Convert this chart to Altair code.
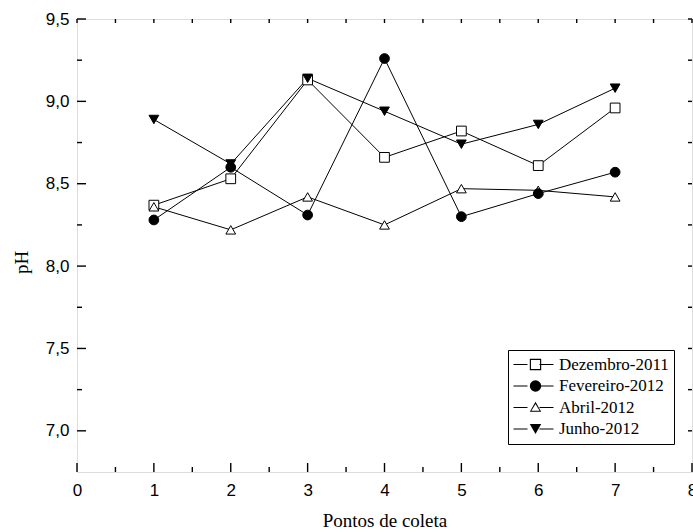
import altair as alt
import pandas as pd

# ---- data ----
pontos = [1, 2, 3, 4, 5, 6, 7]
series = ["Dezembro-2011", "Fevereiro-2012", "Abril-2012", "Junho-2012"]
dezembro = [8.37, 8.53, 9.13, 8.66, 8.82, 8.61, 8.96]
fevereiro = [8.28, 8.60, 8.31, 9.26, 8.30, 8.44, 8.57]
abril = [8.36, 8.22, 8.42, 8.25, 8.47, 8.46, 8.42]
junho = [8.89, 8.62, 9.14, 8.94, 8.74, 8.86, 9.08]
open_series = ["Dezembro-2011", "Abril-2012"]
filled_series = ["Fevereiro-2012", "Junho-2012"]
open_shapes = ["square", "circle", "triangle-up", "triangle-down"]
# legend symbols: outline shapes drawn as filled rings (outer path + reversed inner path)
SQUARE_RING = "M-1,-1H1V1H-1Z M-0.8,-0.8V0.8H0.8V-0.8Z"
TRI_RING = "M0,-1L1,0.75L-1,0.75Z M0,-0.6L-0.72,0.58L0.72,0.58Z"
legend_shapes = [SQUARE_RING, "circle", TRI_RING, "triangle-down"]

x_major = [0, 1, 2, 3, 4, 5, 6, 7, 8]
x_minor = [0.5, 1.5, 2.5, 3.5, 4.5, 5.5, 6.5, 7.5]
y_major = [7.0, 7.5, 8.0, 8.5, 9.0, 9.5]
y_minor = [7.25, 7.75, 8.25, 8.75, 9.25]

# legend keys carry trailing spaces so the overlaid legends stay separate
series_l = [s + " " for s in series]
series_o = [s + "  " for s in series]

rows = []
for s, sl, so, vals in zip(series, series_l, series_o,
                           [dezembro, fevereiro, abril, junho]):
    for p, v in zip(pontos, vals):
        rows.append({"ponto": p, "ph": v, "serie": s, "serie_l": sl,
                     "serie_o": so})
df = pd.DataFrame(rows)

W, H = 615, 453
xscale = alt.Scale(domain=[0, 8], nice=False, zero=False)
yscale = alt.Scale(domain=[6.75, 9.5], nice=False, zero=False)

xaxis = alt.Axis(
    values=x_major, format="d", tickSize=0, domain=False, grid=False,
    labelFont="Liberation Sans", labelFontSize=17, labelPadding=10,
    labelColor="black", labelFlush=False,
    title="Pontos de coleta", titleFont="Liberation Serif", titleFontSize=19,
    titleFontWeight="normal", titleColor="black", titleY=54,
    titleBaseline="alphabetic",
)
yaxis = alt.Axis(
    values=y_major, labelExpr="replace(format(datum.value, '.1f'), '.', ',')",
    tickSize=0, domain=False, grid=False,
    labelFont="Liberation Sans", labelFontSize=17, labelPadding=8,
    labelColor="black", labelFlush=False,
    title="pH", titleFont="Liberation Serif", titleFontSize=19,
    titleFontWeight="normal", titleColor="black", titleAngle=270,
    titleX=-50, titleY=243, titleAlign="center", titleBaseline="alphabetic",
)

line_legend = alt.Legend(
    orient="none", legendX=431, legendY=331, title=None,
    symbolType="stroke", symbolSize=1600, symbolStrokeWidth=1,
    symbolDash=[14, 12, 14], symbolStrokeColor="black",
    clipHeight=19, rowPadding=2.5, padding=5,
    labelFont="Liberation Serif", labelFontSize=17, labelColor="black",
    labelOffset=5, strokeColor="black",
)

point_legend = alt.Legend(
    orient="none", legendX=445, legendY=331, title=None,
    symbolSize=130, symbolStrokeWidth=0, symbolFillColor="black",
    symbolOpacity=1, clipHeight=19, rowPadding=2.5, padding=5,
    labelFont="Liberation Serif", labelFontSize=17, labelExpr="''",
)

lines = alt.Chart(df).mark_line(strokeWidth=1).encode(
    x=alt.X("ponto:Q", scale=xscale, axis=xaxis),
    y=alt.Y("ph:Q", scale=yscale, axis=yaxis),
    stroke=alt.Stroke("serie_l:N", sort=series_l,
                      scale=alt.Scale(domain=series_l, range=["black"] * 4),
                      legend=line_legend),
)

open_pts = alt.Chart(df).transform_filter(
    alt.FieldOneOfPredicate(field="serie", oneOf=open_series)
).mark_point(
    filled=False, fill="white", fillOpacity=1, stroke="black",
    size=95, strokeWidth=1, opacity=1
).encode(
    x=alt.X("ponto:Q", scale=xscale),
    y=alt.Y("ph:Q", scale=yscale),
    shape=alt.Shape("serie_o:N", sort=series_o,
                    scale=alt.Scale(domain=series_o, range=open_shapes),
                    legend=None),
)

filled_pts = alt.Chart(df).transform_filter(
    alt.FieldOneOfPredicate(field="serie", oneOf=filled_series)
).mark_point(
    filled=True, fill="black", stroke="black",
    size=95, strokeWidth=1, opacity=1
).encode(
    x=alt.X("ponto:Q", scale=xscale),
    y=alt.Y("ph:Q", scale=yscale),
    shape=alt.Shape("serie:N", sort=series,
                    scale=alt.Scale(domain=series, range=legend_shapes),
                    legend=point_legend),
)


def yticks(vals, x0, x1):
    return alt.Chart(pd.DataFrame({"v": vals})).mark_rule(
        color="black", strokeWidth=1.4
    ).encode(y=alt.Y("v:Q", scale=yscale),
             x=alt.value(x0), x2=alt.value(x1))


def xticks(vals, y0, y1):
    return alt.Chart(pd.DataFrame({"v": vals})).mark_rule(
        color="black", strokeWidth=1.4
    ).encode(x=alt.X("v:Q", scale=xscale),
             y=alt.value(y0), y2=alt.value(y1))


ticks = [
    yticks(y_major, 0, 9), yticks(y_minor, 0, 5),
    yticks(y_major, W, W - 4), yticks(y_minor, W, W - 4),
    xticks(x_major, H, H - 9), xticks(x_minor, H, H - 5),
    xticks(x_major, 0, 4), xticks(x_minor, 0, 4),
]

chart = alt.layer(lines, open_pts, filled_pts, *ticks).resolve_scale(
    shape="independent"
).properties(
    width=W, height=H,
    padding={"left": 77, "top": 19, "right": 1, "bottom": 60},
    autosize=alt.AutoSizeParams(type="none"),
).configure_view(stroke="black", strokeWidth=1.6).configure(background="white")

chart.save("out.html", embed_options={"renderer": "svg", "actions": False})
